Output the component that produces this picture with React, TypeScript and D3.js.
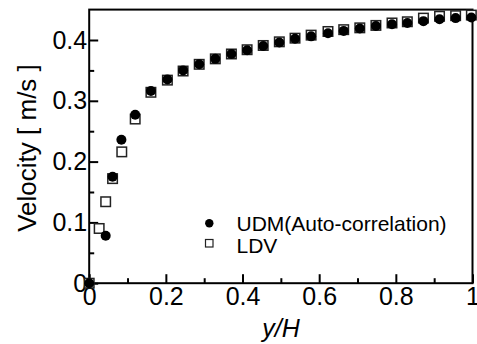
import * as d3 from 'd3';
import React, { useEffect, useRef } from 'react';

// y/H positions and velocities (m/s)
const udmX = [0, 0.043, 0.061, 0.084, 0.12, 0.161, 0.204, 0.245, 0.287, 0.329, 0.371, 0.412, 0.454, 0.496, 0.537, 0.579, 0.623, 0.664, 0.706, 0.748, 0.79, 0.83, 0.872, 0.914, 0.956, 0.997];
const udmV = [0, 0.078, 0.175, 0.236, 0.277, 0.316, 0.335, 0.35, 0.36, 0.369, 0.377, 0.383, 0.39, 0.396, 0.402, 0.406, 0.411, 0.415, 0.419, 0.423, 0.426, 0.428, 0.431, 0.434, 0.436, 0.437];
const ldvX = [0, 0.026, 0.043, 0.061, 0.085, 0.12, 0.161, 0.204, 0.245, 0.287, 0.329, 0.371, 0.412, 0.454, 0.496, 0.537, 0.579, 0.623, 0.664, 0.706, 0.748, 0.79, 0.83, 0.872, 0.914, 0.956, 0.997];
const ldvV = [0, 0.09, 0.134, 0.172, 0.216, 0.27, 0.314, 0.334, 0.349, 0.36, 0.369, 0.377, 0.384, 0.391, 0.397, 0.403, 0.408, 0.414, 0.417, 0.42, 0.424, 0.428, 0.43, 0.436, 0.439, 0.44, 0.441];

const xMajor = [0, 0.2, 0.4, 0.6, 0.8, 1];
const xMinor = [0.1, 0.3, 0.5, 0.7, 0.9];
const yMajor = [0, 0.1, 0.2, 0.3, 0.4];
const yMinor = [0.05, 0.15, 0.25, 0.35];
const legendLabels = ['UDM(Auto-correlation)', 'LDV'];

const FONT = '"Liberation Sans", Arial, Helvetica, sans-serif';

const App = () => {
  const ref = useRef<SVGSVGElement | null>(null);

  useEffect(() => {
    if (!ref.current) return;
    const svg = d3.select(ref.current);
    svg.selectAll('*').remove();

    const left = 89.2, right = 472.5, top = 9.6, bottom = 283.2;
    const x = d3.scaleLinear().domain([0, 1]).range([left, right]);
    const y = d3.scaleLinear().domain([0, 0.45]).range([bottom, top]);

    // minor ticks
    svg.append('g')
      .attr('transform', `translate(0,${bottom})`)
      .call(d3.axisBottom(x).tickValues(xMinor).tickSize(-5).tickFormat(() => ''))
      .call((g) => g.select('.domain').remove());
    svg.append('g')
      .attr('transform', `translate(${left},0)`)
      .call(d3.axisLeft(y).tickValues(yMinor).tickSize(-5).tickFormat(() => ''))
      .call((g) => g.select('.domain').remove());

    // major ticks + labels
    const xa = svg.append('g')
      .attr('transform', `translate(0,${bottom})`)
      .call(d3.axisBottom(x).tickValues(xMajor).tickSize(-9).tickPadding(4).tickFormat(d3.format('')));
    xa.select('.domain').remove();
    xa.selectAll('text').attr('font-size', 25).attr('font-family', FONT).attr('fill', '#000');

    const ya = svg.append('g')
      .attr('transform', `translate(${left},0)`)
      .call(d3.axisLeft(y).tickValues(yMajor).tickSize(-9).tickPadding(2).tickFormat(d3.format('')));
    ya.select('.domain').remove();
    ya.selectAll('text').attr('font-size', 25).attr('font-family', FONT).attr('fill', '#000');

    svg.selectAll('.tick line').attr('stroke', '#000').attr('stroke-width', 2);

    // frame
    svg.append('rect')
      .attr('x', left).attr('y', top)
      .attr('width', right - left).attr('height', bottom - top)
      .attr('fill', 'none').attr('stroke', '#000').attr('stroke-width', 2);

    // LDV squares (behind)
    const s = 9.5;
    svg.append('g').selectAll('rect')
      .data(ldvX.map((d, i) => [d, ldvV[i]]))
      .enter().append('rect')
      .attr('x', (d) => x(d[0]) - s / 2)
      .attr('y', (d) => y(d[1]) - s / 2)
      .attr('width', s).attr('height', s)
      .attr('fill', '#fff').attr('stroke', '#222').attr('stroke-width', 1.5);

    // UDM circles
    svg.append('g').selectAll('circle')
      .data(udmX.map((d, i) => [d, udmV[i]]))
      .enter().append('circle')
      .attr('cx', (d) => x(d[0]))
      .attr('cy', (d) => y(d[1]))
      .attr('r', 5)
      .attr('fill', '#000');

    // legend
    const lg = svg.append('g').attr('font-family', FONT).attr('font-size', 21);
    lg.append('circle').attr('cx', 209.3).attr('cy', 223.3).attr('r', 4.2).attr('fill', '#000');
    lg.append('rect').attr('x', 205.5).attr('y', 239.5).attr('width', 7.5).attr('height', 7.5)
      .attr('fill', '#fff').attr('stroke', '#222').attr('stroke-width', 1.2);
    lg.selectAll('text.lab').data(legendLabels).enter().append('text')
      .attr('class', 'lab')
      .attr('x', 236.5)
      .attr('y', (d, i) => 230.5 + i * 22.5)
      .text((d) => d);

    // axis titles
    svg.append('text')
      .attr('x', 281).attr('y', 336.5)
      .attr('text-anchor', 'middle')
      .attr('font-family', FONT).attr('font-size', 25).attr('font-style', 'italic')
      .text('y/H');
    svg.append('text')
      .attr('transform', 'translate(35.5,148) rotate(-90)')
      .attr('text-anchor', 'middle')
      .attr('font-family', FONT).attr('font-size', 26)
      .text('Velocity [ m/s ]');
  }, []);

  return (
    <svg ref={ref} width={477} height={344}
      style={{ position: 'absolute', left: 0, top: 0, background: '#fff' }} />
  );
};

export default App;
